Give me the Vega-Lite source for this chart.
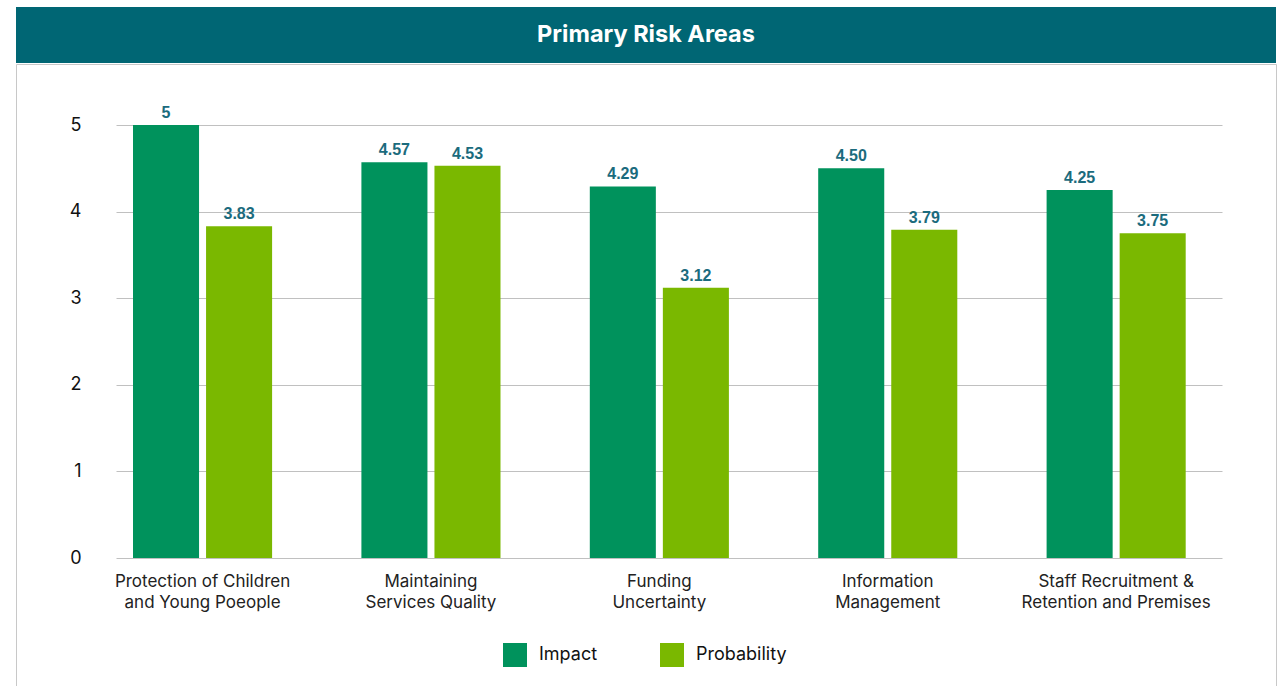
{
  "$schema": "https://vega.github.io/schema/vega-lite/v6.json",
  "padding": {"left": 15, "top": 7, "right": 0, "bottom": 0},
  "background": "white",
  "spacing": 0,
  "config": {"font": "Inter"},
  "vconcat": [
    {
      "width": 1260,
      "height": 56,
      "view": {"fill": "#006674", "stroke": null},
      "data": {"values": [{"title": "Primary Risk Areas"}]},
      "mark": {"type": "text", "font": "Inter", "fontSize": 23.5, "fontWeight": "bold", "color": "white", "baseline": "middle", "align": "center"},
      "encoding": {"text": {"field": "title"}}
    },
    {
      "width": 1260,
      "height": 623,
      "view": {"fill": "white", "stroke": "#c8c8c8"},
      "data": {"values": [
        {"area": "Protection of Children\nand Young Poeople", "measure": "Impact", "value": 5, "label": "5"},
        {"area": "Protection of Children\nand Young Poeople", "measure": "Probability", "value": 3.83, "label": "3.83"},
        {"area": "Maintaining\nServices Quality", "measure": "Impact", "value": 4.57, "label": "4.57"},
        {"area": "Maintaining\nServices Quality", "measure": "Probability", "value": 4.53, "label": "4.53"},
        {"area": "Funding\nUncertainty", "measure": "Impact", "value": 4.29, "label": "4.29"},
        {"area": "Funding\nUncertainty", "measure": "Probability", "value": 3.12, "label": "3.12"},
        {"area": "Information\nManagement", "measure": "Impact", "value": 4.5, "label": "4.50"},
        {"area": "Information\nManagement", "measure": "Probability", "value": 3.79, "label": "3.79"},
        {"area": "Staff Recruitment &\nRetention and Premises", "measure": "Impact", "value": 4.25, "label": "4.25"},
        {"area": "Staff Recruitment &\nRetention and Premises", "measure": "Probability", "value": 3.75, "label": "3.75"}
      ]},
      "encoding": {
        "x": {
          "field": "area", "type": "nominal", "sort": null,
          "scale": {"range": [100, 1206], "paddingInner": 0.391, "paddingOuter": 0.1167, "align": 0.319},
          "axis": {"title": null, "offset": -129, "domain": false, "ticks": false, "labelPadding": 15, "labelFont": "Inter", "labelFontSize": 17, "labelColor": "#222222", "labelLineHeight": 21, "labelAngle": 0, "labelLimit": 400, "labelExpr": "split(datum.label, '\\n')"}
        },
        "xOffset": {"field": "measure", "type": "nominal", "scale": {"paddingInner": 0.0959, "paddingOuter": 0}},
        "y": {
          "field": "value", "type": "quantitative",
          "scale": {"domain": [0, 5], "range": [494, 61], "nice": false},
          "axis": {"title": null, "offset": -67, "domain": false, "ticks": false, "values": [0, 1, 2, 3, 4, 5], "labelPadding": 2, "labelFont": "Inter", "labelFontSize": 18, "labelColor": "#111111", "gridColor": "#c0c0c0", "gridWidth": 1}
        }
      },
      "layer": [
        {
          "mark": {"type": "bar"},
          "encoding": {
            "color": {
              "field": "measure", "type": "nominal",
              "scale": {"domain": ["Impact", "Probability"], "range": ["#00925C", "#7AB800"]},
              "legend": {"title": null, "orient": "none", "legendX": 487, "legendY": 636, "direction": "horizontal", "symbolType": "square", "symbolSize": 576, "symbolStrokeWidth": 0, "symbolOpacity": 1, "labelFont": "Inter", "labelFontSize": 18, "labelColor": "#111111", "labelOffset": 12, "columnPadding": 62, "padding": 0}
            }
          }
        },
        {
          "mark": {"type": "text", "dy": -7, "baseline": "alphabetic", "font": "Liberation Sans", "fontWeight": "bold", "fontSize": 16, "color": "#1B6B7D"},
          "encoding": {"text": {"field": "label"}}
        }
      ]
    }
  ]
}
